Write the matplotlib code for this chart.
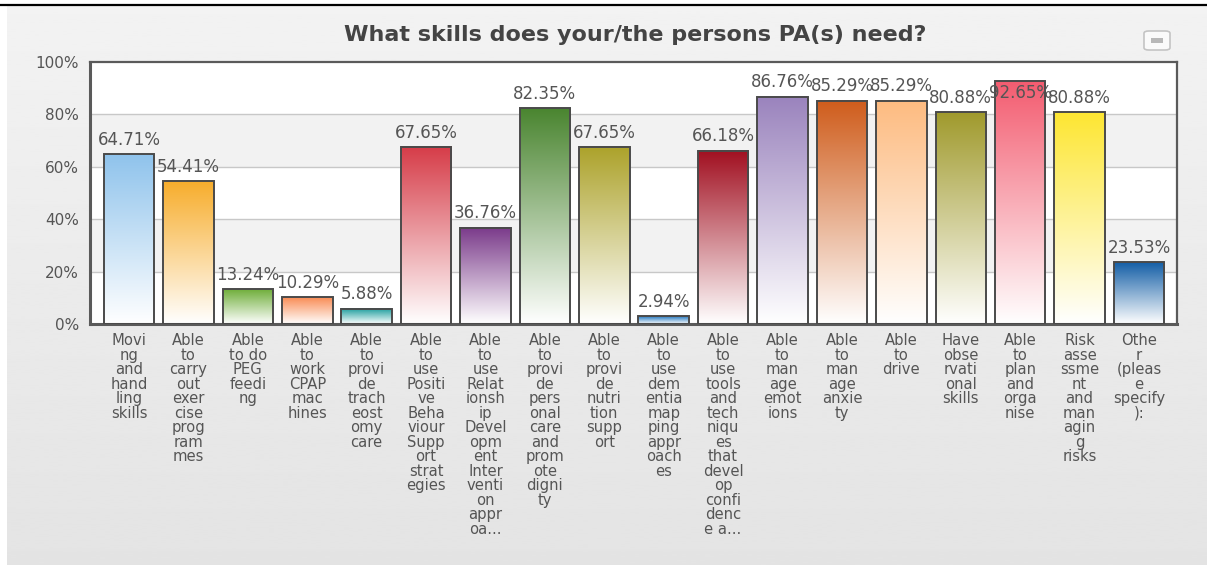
import numpy as np
import matplotlib.pyplot as plt
import matplotlib.colors as mcolors
from matplotlib.patches import Rectangle, FancyBboxPatch
from matplotlib.transforms import blended_transform_factory

# Survey results: share of respondents picking each skill
labels = [
    "Movi\nng\nand\nhand\nling\nskills",
    "Able\nto\ncarry\nout\nexer\ncise\nprog\nram\nmes",
    "Able\nto do\nPEG\nfeedi\nng",
    "Able\nto\nwork\nCPAP\nmac\nhines",
    "Able\nto\nprovi\nde\ntrach\neost\nomy\ncare",
    "Able\nto\nuse\nPositi\nve\nBeha\nviour\nSupp\nort\nstrat\negies",
    "Able\nto\nuse\nRelat\nionsh\nip\nDevel\nopm\nent\nInter\nventi\non\nappr\noa...",
    "Able\nto\nprovi\nde\npers\nonal\ncare\nand\nprom\note\ndigni\nty",
    "Able\nto\nprovi\nde\nnutri\ntion\nsupp\nort",
    "Able\nto\nuse\ndem\nentia\nmap\nping\nappr\noach\nes",
    "Able\nto\nuse\ntools\nand\ntech\nniqu\nes\nthat\ndevel\nop\nconfi\ndenc\ne a...",
    "Able\nto\nman\nage\nemot\nions",
    "Able\nto\nman\nage\nanxie\nty",
    "Able\nto\ndrive",
    "Have\nobse\nrvati\nonal\nskills",
    "Able\nto\nplan\nand\norga\nnise",
    "Risk\nasse\nssme\nnt\nand\nman\nagin\ng\nrisks",
    "Othe\nr\n(pleas\ne\nspecify\n):",
]
percent = [64.71, 54.41, 13.24, 10.29, 5.88, 67.65, 36.76, 82.35, 67.65,
           2.94, 66.18, 86.76, 85.29, 85.29, 80.88, 92.65, 80.88, 23.53]
bar_colors = ["#8fc3ec", "#f7ad2c", "#6fae3a", "#f98c55", "#1a9c9c",
              "#d63c48", "#7a3a8a", "#4a8530", "#aca22a", "#2277c0",
              "#a10f20", "#9a83bd", "#cf5c1b", "#fdbb80", "#a09a2c",
              "#f35c70", "#fde632", "#135ea6"]

grid_col = "#c8c8c8"
text_col = "#555555"

fig = plt.figure(figsize=(12.07, 5.65), dpi=100, facecolor="white")
W, H = 1207, 565

# grey panel behind the chart, slight vertical gradient
bg = fig.add_axes([7 / W, 0, 1 - 7 / W, 1 - 6 / H], zorder=-5)
bg.imshow(np.linspace(0.95, 0.893, 256).reshape(-1, 1), cmap="gray",
          vmin=0, vmax=1, aspect="auto", extent=(0, 1, 0, 1))
bg.axis("off")
fig.add_artist(plt.Line2D([0, 1], [1 - 4.5 / H, 1 - 4.5 / H], color="black",
                          lw=1.6, transform=fig.transFigure))

# menu button in the top-right corner
fig.add_artist(FancyBboxPatch((1144 / W, 1 - 50 / H), 26 / W, 19 / H,
                              boxstyle="round,pad=0,rounding_size=0.004",
                              transform=fig.transFigure, fc="#fafafa",
                              ec="#c4c4c4", lw=1.2))
fig.add_artist(Rectangle((1151 / W, 1 - 43 / H), 12 / W, 5 / H,
                         transform=fig.transFigure, fc="#b8b8b8", ec="none"))

ax = fig.add_axes([90 / W, 1 - 324 / H, 1087 / W, 262 / H])
ax.set_facecolor("white")
n = len(percent)
x = np.arange(n)
ax.set_xlim(-0.657, n - 1 + 0.64)
ax.set_ylim(0, 100)

# alternating horizontal bands
for lo in range(20, 100, 40):
    ax.axhspan(lo, lo + 20, color="#f2f2f2", zorder=0, lw=0)
for yv in range(20, 100, 20):
    ax.axhline(yv, color=grid_col, lw=1, zorder=1)

width = 0.85
grad = np.linspace(0, 1, 256).reshape(-1, 1)
for xi, val, col in zip(x, percent, bar_colors):
    cmap = mcolors.LinearSegmentedColormap.from_list("g", ["#ffffff", col])
    ax.imshow(grad, cmap=cmap, origin="lower", aspect="auto",
              extent=(xi - width / 2, xi + width / 2, 0, val), zorder=2)
ax.bar(x, percent, width=width, fill=False, edgecolor="#4a4a4a", lw=1.4,
       zorder=3)

# value labels; tall bars get theirs tucked inside the top of the bar
for xi, val in zip(x, percent):
    if val > 90:
        ax.text(xi, val - 1.0, f"{val:.2f}%", ha="center", va="top",
                fontsize=12, color=text_col, zorder=4)
    else:
        ax.text(xi, val + 2.0, f"{val:.2f}%", ha="center", va="bottom",
                fontsize=12, color=text_col, zorder=4)

trans = blended_transform_factory(ax.transData, ax.transAxes)
for xi, lab in zip(x, labels):
    ax.text(xi, -0.035, lab, transform=trans, ha="center", va="top",
            fontsize=10.6, color=text_col, linespacing=0.96,
            multialignment="center")

ax.set_xticks([])
ax.set_yticks(range(0, 101, 20))
ax.set_yticklabels([f"{v}%" for v in range(0, 101, 20)], fontsize=11,
                   color=text_col)
ax.tick_params(axis="y", length=0, pad=8)
for side, sp in ax.spines.items():
    sp.set_color("#5a5a5a")
    sp.set_linewidth(2.2 if side in ("left", "bottom") else 1.6)

fig.text(635 / W, 1 - 35 / H, "What skills does your/the persons PA(s) need?",
         ha="center", va="center", fontsize=16, fontweight="bold",
         color="#444444")

fig.savefig("out.png", dpi=100, facecolor=fig.get_facecolor())
